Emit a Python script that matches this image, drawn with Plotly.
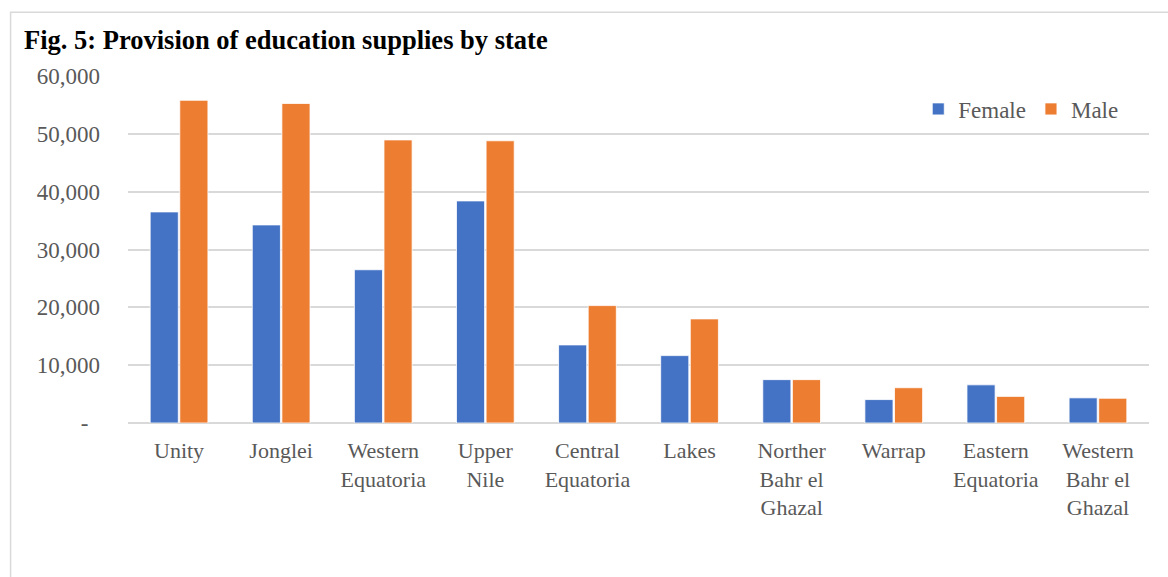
import plotly.graph_objects as go

states = ["Unity", "Jonglei", "Western<br>Equatoria", "Upper<br>Nile", "Central<br>Equatoria",
          "Lakes", "Norther<br>Bahr el<br>Ghazal", "Warrap", "Eastern<br>Equatoria", "Western<br>Bahr el<br>Ghazal"]
female = [36500, 34250, 26500, 38400, 13500, 11650, 7500, 4050, 6600, 4350]
male = [55800, 55250, 48950, 48800, 20300, 18000, 7500, 6100, 4600, 4280]
ytick_vals = [0, 10000, 20000, 30000, 40000, 50000, 60000]
ytick_text = ["-\u00a0\u00a0", "10,000", "20,000", "30,000", "40,000", "50,000", "60,000"]

serif = "Liberation Serif, Times New Roman, serif"
grey = "#595959"

fig = go.Figure()
fig.add_trace(go.Bar(x=states, y=female, name="Female",
                     marker=dict(color="#4472C4", line=dict(color="white", width=0.8))))
fig.add_trace(go.Bar(x=states, y=male, name="Male",
                     marker=dict(color="#ED7D31", line=dict(color="white", width=0.8))))

fig.update_layout(
    width=1168, height=577,
    margin=dict(l=128, r=19, t=76, b=154),
    plot_bgcolor="white", paper_bgcolor="white",
    barmode="group", bargap=0.42, bargroupgap=0.05,
    font=dict(family=serif, size=23, color=grey),
    showlegend=True,
    legend=dict(orientation="h", x=0.774, xanchor="left", y=0.905, yanchor="middle",
                font=dict(family=serif, size=23, color=grey), bgcolor="rgba(0,0,0,0)",
                itemclick=False),
    xaxis=dict(showgrid=False, showline=False, ticks="", ticklabelstandoff=12,
               tickfont=dict(family=serif, size=22, color=grey)),
    yaxis=dict(range=[0, 60000], tickvals=ytick_vals, ticktext=ytick_text,
               showgrid=True, gridcolor="#d9d9d9", gridwidth=1.5,
               zeroline=True, zerolinecolor="#d9d9d9", zerolinewidth=2,
               showline=False, ticks="", ticklabelstandoff=27,
               tickfont=dict(family=serif, size=23, color=grey)),
    annotations=[dict(text="<b>Fig. 5: Provision of education supplies by state</b>",
                      xref="paper", yref="paper", x=-0.104, y=1.105, xanchor="left", yanchor="middle",
                      showarrow=False, font=dict(family=serif, size=26.5, color="black"))],
    shapes=[dict(type="rect", xref="paper", yref="paper",
                 x0=-0.115, x1=1.2, y0=-0.8, y1=1.184,
                 line=dict(color="#d9d9d9", width=1.5), fillcolor="rgba(0,0,0,0)", layer="below")],
)

fig.write_html("out.html")
